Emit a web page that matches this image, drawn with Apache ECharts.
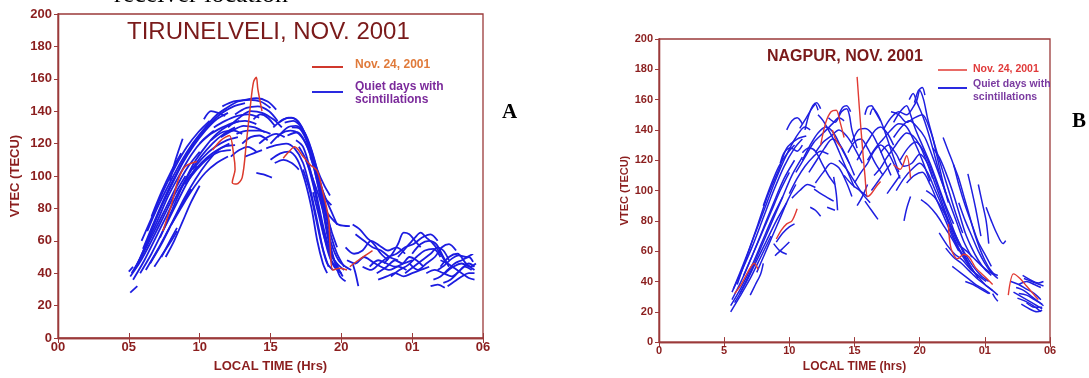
<!DOCTYPE html>
<html>
<head>
<meta charset="utf-8">
<script src="https://cdn.jsdelivr.net/npm/echarts@6/dist/echarts.min.js"></script>
<style>
  html, body { margin: 0; padding: 0; background: #fff; }
  #chart { width: 1089px; height: 378px; }
</style>
</head>
<body>
<div id="chart"></div>
<script>
// hours since local midnight, 24+ = next morning
var tirXLabels = ['00', '05', '10', '15', '20', '01', '06'];
var nagXLabels = ['0', '5', '10', '15', '20', '01', '06'];

// TIRUNELVELI, quiet days with scintillations (each entry = one trace)
var tirBlue = [
  [[5.1,38],[5.8,47],[6.6,60],[7.4,74],[8.2,88],[9.0,100]],
  [[5.2,40],[6.0,52],[6.8,66],[7.6,80],[8.4,94],[9.2,106],[10.0,115]],
  [[5.4,42],[6.2,57],[7.0,72],[7.8,88],[8.6,101],[9.4,113],[10.2,122],[11.0,128]],
  [[5.6,45],[6.4,62],[7.2,79],[8.0,94],[8.8,108],[9.6,119],[10.4,128],[11.2,135],[12.0,139]],
  [[6.0,55],[6.8,72],[7.6,88],[8.4,102],[9.2,115],[10.0,125],[10.8,133],[11.6,139],[12.4,143],[13.2,145]],
  [[6.3,66],[7.1,82],[7.9,96],[8.7,109],[9.5,120],[10.3,129],[11.1,137],[11.9,142],[12.7,146],[13.5,147],[14.3,146],[15.0,142]],
  [[6.2,42],[7.0,54],[7.8,67],[8.6,80],[9.4,92]],
  [[6.8,44],[7.4,52],[8.0,60],[8.4,66]],
  [[7.3,50],[7.9,60],[8.4,68]],
  [[7.9,97],[8.3,110],[8.8,123]],
  [[8.0,70],[8.8,82],[9.6,93],[10.4,102],[11.2,108],[12.0,112]],
  [[8.5,90],[9.3,100],[10.1,108],[10.9,114],[11.7,118],[12.5,119]],
  [[9.5,104],[10.3,112],[11.1,118],[11.9,122],[12.7,124]],
  [[10.3,135],[10.8,140],[11.3,139],[11.8,137]],
  [[10.0,120],[10.8,126],[11.6,130],[12.4,133],[13.2,134],[14.0,132]],
  [[11.5,124],[12.3,128],[13.1,131],[13.9,130],[14.6,127]],
  [[12.0,130],[12.8,136],[13.6,140],[14.4,139],[15.2,135],[15.8,130]],
  [[12.5,138],[13.3,142],[14.1,143],[14.9,140],[15.5,134]],
  [[12.2,112],[12.8,116],[13.4,118],[14.0,115]],
  [[13.0,120],[13.6,124],[14.2,125],[14.8,122]],
  [[14.0,102],[14.5,101],[15.1,99]],
  [[13.8,135],[14.3,138],[14.8,136],[15.3,131]],
  [[5.3,36],[6.1,48],[6.9,62],[7.7,76],[8.5,90],[9.3,102],[10.1,112],[10.9,120],[11.7,126],[12.5,130]],
  [[5.8,40],[6.6,52],[7.4,66],[8.2,80],[9.0,94],[9.8,106]],
  [[6.5,46],[7.3,58],[8.1,72],[8.9,86],[9.7,98],[10.5,108],[11.3,116],[12.1,120]],
  [[7.6,50],[8.2,60],[8.8,72],[9.4,84],[10.0,94]],
  [[5.9,60],[6.7,76],[7.5,92],[8.3,106],[9.1,118],[9.9,127],[10.7,134]],
  [[6.6,75],[7.3,90],[8.0,103],[8.7,114]],
  [[7.2,62],[8.0,78],[8.8,94],[9.6,108],[10.4,118],[11.2,126],[12.0,131],[12.8,134]],
  [[9.0,95],[9.8,104],[10.6,111],[11.4,115],[12.2,116]],
  [[10.8,122],[11.6,127],[12.4,128],[13.0,126]],
  [[11.0,130],[11.8,134],[12.6,137],[13.4,138],[14.2,136]],
  [[11.6,143],[12.4,146],[13.2,147],[14.0,148],[14.8,146],[15.4,141]],
  [[12.6,126],[13.4,128],[14.2,128],[15.0,126]],
  [[13.2,112],[13.8,114],[14.4,116]],
  [[14.2,120],[14.8,124],[15.4,126],[16.0,124]],
  [[15.3,108],[15.9,110],[16.5,108],[17.0,104]],
  [[15.0,120],[15.7,126],[16.4,128],[17.0,126],[17.6,118],[18.1,104],[18.6,84],[19.0,64],[19.4,50],[19.8,44]],
  [[15.2,130],[15.9,135],[16.5,136],[17.1,132],[17.6,122],[18.1,106],[18.6,88],[19.0,74],[19.3,66]],
  [[15.6,133],[16.3,136],[16.9,134],[17.5,124],[18.0,110],[18.5,96],[18.9,86],[19.3,82]],
  [[14.7,117],[15.4,119],[16.1,120],[16.7,117],[17.3,108],[17.8,92],[18.3,72],[18.7,55],[19.1,44]],
  [[15.0,110],[15.7,114],[16.3,115],[16.9,110],[17.4,98],[17.9,80],[18.3,60],[18.7,46],[19.0,40]],
  [[16.2,125],[16.9,127],[17.5,120],[18.0,108],[18.5,92],[18.9,76],[19.3,62],[19.7,52],[20.2,44]],
  [[16.5,130],[17.1,129],[17.7,118],[18.2,100],[18.7,80],[19.1,62],[19.5,48],[19.9,38],[20.3,35]],
  [[17.0,118],[17.5,110],[18.0,95],[18.5,76],[18.9,60],[19.3,48],[19.8,42]],
  [[17.3,104],[17.8,90],[18.2,74],[18.6,58],[19.0,46],[19.4,42]],
  [[18.8,80],[19.3,74],[19.8,70],[20.6,69]],
  [[17.8,112],[18.3,100],[18.8,88],[19.3,78],[19.7,70]],
  [[15.5,124],[16.2,130],[16.8,131],[17.4,127],[17.9,116],[18.4,100],[18.9,80],[19.3,66],[19.7,56]],
  [[16.0,133],[16.6,134],[17.2,130],[17.8,118],[18.3,104],[18.8,94],[19.2,88]],
  [[16.8,122],[17.3,118],[17.8,104],[18.3,84],[18.7,66],[19.1,52],[19.5,44],[20.0,40]],
  [[17.5,110],[18.0,98],[18.4,82],[18.8,66],[19.2,54],[19.6,46],[20.1,38]],
  [[18.0,90],[18.4,76],[18.8,62],[19.2,52],[19.7,46],[20.2,42]],
  [[17.9,100],[18.4,88],[18.9,72],[19.3,58],[19.8,48],[20.3,44],[20.7,42]],
  [[20.8,70],[21.3,67],[21.8,62],[22.3,58],[22.8,52],[23.3,48]],
  [[21.0,64],[21.6,60],[22.2,56],[22.8,54],[23.4,50],[24.0,48]],
  [[20.4,48],[21.0,46],[21.6,50],[22.2,47],[22.8,44],[23.4,42],[24.0,44],[24.6,42]],
  [[20.8,46],[21.0,40],[21.2,32]],
  [[22.5,40],[23.2,44],[23.8,48],[24.3,46],[24.8,50],[25.3,48],[25.8,44]],
  [[23.0,46],[23.6,52],[24.0,58],[24.4,65],[24.8,64],[25.2,60],[25.6,56]],
  [[24.0,50],[24.6,56],[25.2,62],[25.6,65],[26.0,62],[26.5,58],[27.0,52],[27.4,46]],
  [[24.5,40],[25.1,44],[25.7,48],[26.3,52],[26.8,56],[27.2,54],[27.6,48]],
  [[22.6,36],[23.2,38],[23.8,40],[24.4,38],[25.0,40],[25.6,42],[26.2,44]],
  [[25.0,52],[25.6,58],[26.2,60],[26.7,58],[27.2,50],[27.6,44]],
  [[20.3,56],[20.9,52],[21.5,54],[22.1,60],[22.7,57],[23.3,54],[23.9,56],[24.5,52]],
  [[21.5,44],[22.1,42],[22.7,46],[23.3,50],[23.9,52],[24.5,56],[25.1,58],[25.7,62],[26.3,64],[26.8,60]],
  [[23.5,38],[24.1,42],[24.7,45],[25.3,50],[25.9,54],[26.5,55],[27.0,50]],
  [[24.8,46],[25.4,42],[26.0,46],[26.6,50],[27.1,56],[27.6,58],[28.1,54]],
  [[22.0,44],[22.6,48],[23.2,46],[23.8,44],[24.4,46],[25.0,48]],
  [[26.3,32],[26.8,33],[27.3,31]],
  [[26.5,36],[27.0,38],[27.5,42],[28.0,46],[28.5,48],[29.0,50],[29.3,47]],
  [[26.8,42],[27.3,45],[27.8,49],[28.3,51],[28.8,50],[29.3,52]],
  [[27.0,48],[27.5,46],[28.0,43],[28.5,40],[29.0,37],[29.4,36]],
  [[27.2,34],[27.7,36],[28.2,40],[28.7,44],[29.2,42]],
  [[27.5,32],[28.0,35],[28.5,38],[29.0,40],[29.4,40]],
  [[26.0,40],[26.6,42],[27.2,40],[27.8,38],[28.4,42],[29.0,46],[29.4,44]],
  [[27.0,44],[27.6,50],[28.2,52],[28.8,46],[29.4,42]],
  [[27.3,40],[27.9,44],[28.5,46],[29.1,44],[29.5,46]],
  [[5.1,28],[5.6,32]],
  [[5.0,41],[5.3,44]]
];

// TIRUNELVELI, Nov. 24, 2001
var tirRed = [
  [[7.4,66],[8.0,82],[8.5,98],[9.0,106],[9.8,109]],
  [[10.9,116],[11.5,122],[12.1,125],[12.4,113],[12.5,104],[12.3,96],[12.6,95],[13.0,99],[13.3,121],[13.6,145],[13.8,158],[14.0,161],[14.1,154],[14.4,140]],
  [[15.9,111],[16.3,115],[16.7,118],[17.3,112],[17.8,107],[18.3,103],[18.7,90],[19.1,74],[19.2,58],[19.4,42],[19.9,43],[20.4,42]],
  [[20.6,44],[21.2,48],[21.7,51],[22.2,54]]
];

// NAGPUR, quiet days with scintillations
var nagBlue = [
  [[5.5,20],[6.2,30],[7.0,42],[7.8,56],[8.6,70]],
  [[5.5,24],[6.3,36],[7.1,50],[7.9,66],[8.7,82],[9.5,96]],
  [[5.6,28],[6.4,42],[7.2,58],[8.0,75],[8.8,92],[9.6,108],[10.4,120]],
  [[5.6,33],[6.4,48],[7.2,64],[8.0,82],[8.8,100],[9.6,116],[10.4,128],[11.0,134]],
  [[5.7,35],[6.5,52],[7.3,70],[8.1,88],[8.9,106],[9.7,122],[10.5,135],[11.2,142],[11.6,140]],
  [[6.0,38],[6.8,58],[7.6,78],[8.4,98],[9.2,114],[9.8,128],[10.6,134],[11.3,136]],
  [[5.8,26],[6.6,38],[7.4,52],[8.2,66],[9.0,80],[9.8,92]],
  [[6.2,32],[7.0,46],[7.8,62],[8.6,78],[9.4,94],[10.2,110],[11.0,122]],
  [[6.5,44],[7.2,58],[7.9,72],[8.6,86],[9.3,100],[10.0,112]],
  [[8.0,90],[8.6,104],[9.2,116],[9.8,124],[10.4,130]],
  [[7.0,31],[7.4,38],[7.8,45],[8.0,52]],
  [[7.5,46],[8.1,58],[8.7,70],[9.3,82],[9.9,94],[10.5,104]],
  [[8.9,57],[9.4,61],[10.0,66]],
  [[8.8,65],[9.3,60],[9.8,58]],
  [[9.0,66],[9.5,72],[10.0,76],[10.4,78]],
  [[9.3,118],[9.6,125],[10.1,128],[10.6,126],[11.0,130]],
  [[9.8,140],[10.2,146],[10.6,148],[11.0,144]],
  [[10.2,95],[10.8,100],[11.4,104],[12.0,102]],
  [[11.6,89],[12.0,87],[12.4,83]],
  [[11.9,101],[12.6,97],[13.4,93]],
  [[12.9,89],[13.5,87]],
  [[10.8,141],[11.3,148],[11.8,155],[12.0,157],[12.2,153]],
  [[11.2,140],[11.5,150],[11.8,156],[12.1,158],[12.4,154]],
  [[11.0,120],[11.6,130],[12.2,138],[12.8,142],[13.4,138],[14.0,128],[14.6,118]],
  [[11.5,112],[12.1,120],[12.7,128],[13.3,134],[13.9,130],[14.5,120],[15.0,110]],
  [[11.0,125],[11.5,128],[12.0,126],[12.5,118],[13.0,110],[13.5,104]],
  [[10.0,98],[10.6,108],[11.2,116],[11.8,122],[12.4,126],[13.0,124]],
  [[10.5,112],[11.2,122],[11.9,132],[12.6,138],[13.3,144],[13.8,148],[14.2,146]],
  [[12.0,125],[12.6,132],[13.2,136],[13.8,140],[14.4,136],[15.0,128],[15.6,118]],
  [[12.2,150],[12.6,146],[13.0,140],[13.5,132],[14.0,122],[14.5,112],[15.0,102]],
  [[13.0,148],[13.5,145],[14.0,152],[14.4,154],[14.6,150],[14.8,140],[15.2,128]],
  [[13.8,150],[14.1,155],[14.4,156],[14.7,152]],
  [[12.0,105],[12.6,112],[13.2,118],[13.8,115],[14.4,105],[14.8,96]],
  [[13.4,109],[13.6,98],[13.7,87]],
  [[13.8,120],[14.4,114],[15.0,106],[15.6,98],[16.2,92]],
  [[14.2,110],[14.8,104],[15.4,100],[16.0,96]],
  [[14.5,125],[15.0,132],[15.5,134],[16.0,128],[16.6,118],[17.2,110]],
  [[14.8,132],[15.3,140],[15.8,141],[16.3,138],[16.8,130],[17.3,120],[17.8,110]],
  [[15.2,120],[15.7,128],[16.2,135],[16.6,140],[17.0,142],[17.5,138],[18.0,130]],
  [[15.0,105],[15.5,112],[16.0,118],[16.5,126],[17.0,130],[17.5,126],[18.0,118],[18.5,108]],
  [[15.2,90],[15.6,96],[16.0,104]],
  [[15.8,93],[16.3,87],[16.8,81]],
  [[16.3,100],[16.8,106],[17.3,112],[17.8,118]],
  [[17.5,98],[18.0,104],[18.5,110]],
  [[15.8,150],[16.0,155],[16.3,156],[16.6,152],[17.0,146]],
  [[16.2,150],[16.4,154],[16.8,150],[17.2,142],[17.6,132],[18.0,122],[18.4,112]],
  [[16.0,120],[16.6,128],[17.2,134],[17.8,140],[18.4,144],[19.0,142],[19.6,132],[20.2,120],[20.8,106]],
  [[16.5,110],[17.0,115],[17.5,122],[18.0,128],[18.5,134],[19.0,138],[19.5,136],[20.0,130],[20.5,120],[21.0,108]],
  [[17.0,125],[17.6,130],[18.2,124],[18.8,116],[19.4,118],[20.0,124],[20.6,118],[21.2,104],[21.8,90],[22.4,76],[23.0,64]],
  [[17.2,140],[17.8,148],[18.4,152],[19.0,150],[19.5,155],[19.8,160],[20.0,166],[20.3,160],[20.6,148],[21.0,135],[21.4,120],[21.8,105],[22.2,92]],
  [[19.6,158],[19.9,166],[20.2,168],[20.4,163]],
  [[17.8,152],[18.4,150],[19.0,145],[19.6,148],[20.2,150],[20.8,140],[21.3,126],[21.8,112],[22.3,98],[22.8,84],[23.3,72]],
  [[18.0,145],[18.5,152],[19.0,156],[19.3,150],[19.7,140],[20.2,130],[20.8,118],[21.4,104],[22.0,90],[22.6,78]],
  [[19.2,160],[19.5,164],[19.8,158],[20.2,150],[20.6,140],[21.0,128],[21.5,112],[22.0,98]],
  [[18.0,135],[18.6,142],[19.2,146],[19.8,142],[20.4,135],[21.0,122],[21.6,108],[22.2,94],[22.8,80],[23.4,66],[24.0,56]],
  [[18.5,120],[19.1,128],[19.7,132],[20.3,126],[20.9,114],[21.5,100],[22.1,86],[22.7,72],[23.3,60],[23.9,50],[24.5,42]],
  [[18.2,100],[18.8,108],[19.4,114],[20.0,118],[20.6,112],[21.2,100],[21.8,88],[22.4,74],[23.0,62],[23.6,54],[24.2,46]],
  [[18.8,80],[19.0,88],[19.3,96]],
  [[19.0,105],[19.6,110],[20.2,112],[20.8,104],[21.4,92],[22.0,80],[22.6,68],[23.2,58],[23.8,50],[24.4,44],[25.0,38],[25.6,34]],
  [[20.1,94],[20.7,90],[21.3,84],[21.9,76],[22.5,68],[23.0,60]],
  [[20.5,100],[21.1,96],[21.7,88],[22.3,78],[22.9,68],[23.5,58],[24.1,50],[24.7,44],[25.3,40]],
  [[21.0,128],[21.5,122],[22.0,112],[22.5,100],[23.0,86],[23.5,72],[24.0,62],[24.5,54],[25.0,48],[25.5,44]],
  [[21.8,135],[22.2,126],[22.6,117],[23.0,104],[23.5,90],[24.0,78],[24.5,66],[25.0,58],[25.5,50]],
  [[22.6,117],[23.0,108],[23.4,96],[23.8,84],[24.2,72],[24.6,62],[25.0,54],[25.4,48],[25.8,44]],
  [[23.0,92],[23.5,80],[24.0,70],[24.5,60],[25.0,52],[25.5,46],[26.0,42]],
  [[23.7,111],[24.0,100],[24.3,88],[24.7,70]],
  [[24.5,104],[24.8,92],[25.1,80],[25.3,65]],
  [[25.1,89],[25.5,80],[25.9,72],[26.4,65],[26.6,67]],
  [[21.5,72],[22.1,64],[22.7,58],[23.3,54],[23.9,48],[24.5,44],[25.1,40]],
  [[22.0,62],[22.6,56],[23.2,52],[23.8,47],[24.4,42],[25.0,38],[25.6,34],[26.0,31]],
  [[22.5,50],[23.1,46],[23.7,42],[24.3,38],[24.9,35],[25.4,32]],
  [[23.0,64],[23.6,60],[24.2,55],[24.8,50],[25.4,46],[26.0,44]],
  [[23.5,40],[24.1,38],[24.7,35],[25.3,32]],
  [[25.6,32],[25.8,29],[26.0,27]],
  [[27.0,40],[27.6,38],[28.2,35],[28.8,32],[29.3,28]],
  [[27.2,33],[27.8,30],[28.4,27],[29.0,24],[29.4,22]],
  [[27.4,36],[28.0,34],[28.6,30],[29.2,26],[29.5,24]],
  [[27.6,38],[28.2,40],[28.8,38],[29.3,36]],
  [[27.6,32],[28.2,31],[28.8,28],[29.4,25]],
  [[27.8,25],[28.4,22],[29.0,20],[29.4,21]],
  [[28.2,26],[28.8,23],[29.4,23]],
  [[27.9,44],[28.5,41],[29.1,39],[29.5,40]],
  [[28.0,42],[28.6,40],[29.2,38],[29.5,37]],
  [[27.5,29],[28.1,27],[28.7,24],[29.3,20]]
];

// NAGPUR, Nov. 24, 2001
var nagRed = [
  [[5.8,32],[6.3,38],[6.8,46],[7.3,52],[7.6,48]],
  [[9.0,68],[9.4,74],[9.8,78],[10.2,80],[10.6,88]],
  [[12.4,130],[12.8,145],[13.2,152],[13.6,153],[13.9,145],[14.2,135]],
  [[13.3,140],[13.6,133],[14.0,128]],
  [[15.2,175],[15.5,140],[15.8,110],[16.0,96],[16.3,98],[16.7,103],[17.0,106]],
  [[18.0,117],[18.5,114],[19.0,123],[19.3,108]],
  [[22.2,78],[22.4,62],[22.9,55],[23.4,58],[23.8,56],[24.3,49],[24.9,44],[25.6,38]],
  [[26.8,31],[27.2,45],[27.7,42],[28.2,37],[28.7,32],[29.1,28]]
];

var frame = '#9b3a3a';
var lblColor = '#8b1e1e';
var font = '"Liberation Sans", Arial, sans-serif';

function xAx(grid, labels, size, pos, show) {
  return {
    type: 'value', gridIndex: grid, position: pos, min: 0, max: 30, interval: 5,
    axisLine: { show: true, lineStyle: { color: frame, width: 1.3 } },
    axisTick: { show: true, inside: true, length: 5, lineStyle: { color: frame } },
    splitLine: { show: false },
    axisLabel: {
      show: show, color: lblColor, fontWeight: 'bold', fontSize: size, fontFamily: font, margin: 3,
      formatter: function (v) { return labels[Math.round(v / 5)]; }
    }
  };
}
function yAx(grid, size, pos, show) {
  return {
    type: 'value', gridIndex: grid, position: pos, min: 0, max: 200, interval: 20,
    axisLine: { show: true, lineStyle: { color: frame, width: 1.3 } },
    axisTick: { show: true, inside: pos === 'right', length: 4, lineStyle: { color: frame } },
    splitLine: { show: false },
    axisLabel: { show: show, color: lblColor, fontWeight: 'bold', fontSize: size, fontFamily: font, margin: 6 }
  };
}

var xAxes = [
  xAx(0, tirXLabels, 13, 'bottom', true), xAx(0, tirXLabels, 13, 'top', false),
  xAx(1, nagXLabels, 11, 'bottom', true), xAx(1, nagXLabels, 11, 'top', false)
];
var yAxes = [
  yAx(0, 13, 'left', true), yAx(0, 13, 'right', false),
  yAx(1, 11, 'left', true), yAx(1, 11, 'right', false)
];
xAxes[0].name = 'LOCAL TIME (Hrs)';
xAxes[0].nameLocation = 'middle'; xAxes[0].nameGap = 22;
xAxes[0].nameTextStyle = { color: lblColor, fontWeight: 'bold', fontSize: 13, fontFamily: font };
yAxes[0].name = 'VTEC (TECU)';
yAxes[0].nameLocation = 'middle'; yAxes[0].nameGap = 36;
yAxes[0].nameTextStyle = { color: lblColor, fontWeight: 'bold', fontSize: 13, fontFamily: font };
xAxes[2].name = 'LOCAL TIME (hrs)';
xAxes[2].nameLocation = 'middle'; xAxes[2].nameGap = 16;
xAxes[2].nameTextStyle = { color: lblColor, fontWeight: 'bold', fontSize: 12, fontFamily: font };
yAxes[2].name = 'VTEC (TECU)';
yAxes[2].nameLocation = 'middle'; yAxes[2].nameGap = 29;
yAxes[2].nameTextStyle = { color: lblColor, fontWeight: 'bold', fontSize: 11, fontFamily: font };

var series = [];
function addTraces(list, grid, color, width) {
  list.forEach(function (tr) {
    series.push({
      type: 'line', xAxisIndex: grid * 2, yAxisIndex: grid * 2, data: tr,
      showSymbol: false, smooth: 0.3, silent: true,
      lineStyle: { color: color, width: width }
    });
  });
}
addTraces(tirBlue, 0, '#1c1ce0', 1.8);
addTraces(tirRed, 0, '#dc3a2c', 1.5);
addTraces(nagBlue, 1, '#1f1fe0', 1.5);
addTraces(nagRed, 1, '#e23a33', 1.4);

var myChart = echarts.init(document.getElementById('chart'));
myChart.setOption({
  animation: false,
  backgroundColor: '#fff',
  grid: [
    { left: 58, right: 606, top: 14, bottom: 36, show: true, borderColor: frame, borderWidth: 1.3 },
    { left: 659, right: 39, top: 39, bottom: 30, show: true, borderColor: frame, borderWidth: 1.3 }
  ],
  xAxis: xAxes,
  yAxis: yAxes,
  series: series,
  graphic: [
    { type: 'text', left: 114, top: -18, style: { text: 'receiver location', font: '26px "Liberation Serif", "Times New Roman", serif', fill: '#000' } },
    { type: 'text', left: 127, top: 20, style: { text: 'TIRUNELVELI, NOV. 2001', font: '24px ' + font, fill: '#7a1a1a' } },
    { type: 'line', shape: { x1: 312, y1: 67, x2: 343, y2: 67 }, style: { stroke: '#d0382c', lineWidth: 2 } },
    { type: 'text', left: 355, top: 59, style: { text: 'Nov. 24, 2001', font: 'bold 12px ' + font, fill: '#e07a3a' } },
    { type: 'line', shape: { x1: 312, y1: 92, x2: 343, y2: 92 }, style: { stroke: '#2a2ae0', lineWidth: 2 } },
    { type: 'text', left: 355, top: 80, style: { text: 'Quiet days with\nscintillations', font: 'bold 12px ' + font, fill: '#7b2a9b', lineHeight: 13 } },
    { type: 'text', left: 502, top: 102, style: { text: 'A', font: 'bold 21px "Liberation Serif", "Times New Roman", serif', fill: '#000' } },
    { type: 'text', left: 767, top: 49, style: { text: 'NAGPUR, NOV. 2001', font: 'bold 16px ' + font, fill: '#7a1a1a' } },
    { type: 'line', shape: { x1: 938, y1: 70, x2: 967, y2: 70 }, style: { stroke: '#e23a33', lineWidth: 1.5 } },
    { type: 'text', left: 973, top: 64, style: { text: 'Nov. 24, 2001', font: 'bold 10.5px ' + font, fill: '#e03a3a' } },
    { type: 'line', shape: { x1: 938, y1: 88, x2: 967, y2: 88 }, style: { stroke: '#2a2ae0', lineWidth: 2 } },
    { type: 'text', left: 973, top: 78, style: { text: 'Quiet days with\nscintillations', font: 'bold 10.5px ' + font, fill: '#7a3aa0', lineHeight: 13 } },
    { type: 'text', left: 1072, top: 111, style: { text: 'B', font: 'bold 21px "Liberation Serif", "Times New Roman", serif', fill: '#000' } }
  ]
});
</script>
</body>
</html>
